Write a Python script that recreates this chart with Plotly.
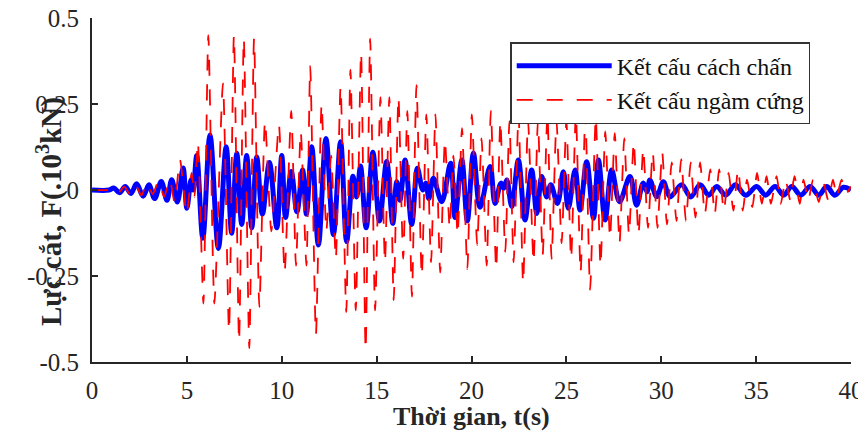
import plotly.graph_objects as go

# Peaks / troughs (time in s, force in 10^3 kN)
blue_t = [0, 0.9, 1.15, 1.45, 1.75, 2.05, 2.35, 2.7, 3.0, 3.3, 3.65, 3.95, 4.2, 4.5,
          4.8, 5.0, 5.22, 5.33, 5.52, 5.84, 6.22, 6.66, 7.07, 7.36, 7.63, 7.89, 8.15, 8.42,
          8.68, 8.98, 9.35, 9.74, 10.0, 10.2, 10.5, 10.8, 11.1, 11.3, 11.58, 11.93, 12.33,
          12.72, 13.1, 13.42, 13.75, 13.95, 14.15, 14.45, 14.8, 15.15, 15.53, 15.85, 16.06,
          16.23, 16.5, 16.85, 17.15, 17.43, 17.6, 17.75, 17.99, 18.43, 18.9, 19.13, 19.49,
          19.78, 20.1, 20.45, 20.98, 21.24, 21.55, 21.7, 21.86, 22.12, 22.47, 22.82, 23.17,
          23.44, 23.7, 23.96, 24.18, 24.53, 24.84, 25.1, 25.46, 25.72, 26.07, 26.43, 26.69,
          27.04, 27.39, 27.8, 28.35, 28.7, 29.05, 29.25, 29.4, 29.76, 30.11, 30.46, 31.08,
          31.55, 32.05, 32.5, 32.92, 33.4, 33.9, 34.45, 35.03, 35.5, 36.0, 36.45, 36.88,
          37.35, 37.85, 38.3, 38.72, 39.15, 39.6, 40.0]
blue_f = [0, 0, 0.006, -0.008, 0.01, -0.01, 0.018, -0.018, 0.015, -0.025, 0.025, -0.03, 0.03, -0.035,
          0.064, -0.053, 0.03, 0.0, 0.1, -0.14, 0.16, -0.17, 0.126, -0.126, 0.107, -0.1, 0.1, -0.11,
          0.096, -0.07, 0.08, -0.11, 0.1, -0.08, 0.054, -0.063, 0.058, -0.07, 0.126, -0.16, 0.15,
          -0.13, 0.14, -0.15, 0.04, -0.02, 0.07, -0.11, 0.11, -0.09, 0.083, -0.097, 0.024,
          -0.03, 0.087, -0.1, 0.063, 0.0, 0.02, -0.025, 0.034, -0.034, 0.078, -0.08, 0.087,
          -0.09, 0.107, -0.05, 0.068, -0.039, 0.02, 0.005, 0.029, -0.048, 0.087, -0.087, 0.058,
          -0.068, 0.039, -0.02, 0.015, -0.039, 0.053, -0.053, 0.058, -0.058, 0.082, -0.082, 0.087,
          -0.087, 0.058, -0.034, 0.039, -0.044, 0.02, -0.005, 0.029, -0.019, 0.024, -0.02, 0.015,
          -0.02, 0.015, -0.015, 0.01, -0.015, 0.015, -0.015, 0.01, -0.015, 0.01, -0.015, 0.01,
          -0.015, 0.01, -0.015, 0.01, -0.015, 0.008, 0.0]

red_t = [0, 0.8, 1.1, 1.4, 1.7, 2.0, 2.3, 2.6, 2.9, 3.2, 3.5, 3.8, 4.1, 4.35,
         4.64, 4.99, 5.25, 5.4, 5.58, 5.87, 6.13, 6.45, 6.9, 7.22, 7.48, 7.75, 8.0, 8.29,
         8.54, 8.82, 9.12, 9.45, 9.85, 10.15, 10.5, 10.75, 11.0, 11.3, 11.5, 11.8, 12.1,
         12.35, 12.6, 12.85, 13.1, 13.4, 13.62, 13.9, 14.18, 14.42, 14.66, 14.92, 15.2,
         15.44, 15.67, 15.9, 16.15, 16.4, 16.62, 16.86, 17.1, 17.38, 17.62, 17.87, 18.1,
         18.35, 18.6, 18.85, 19.05, 19.27, 19.5, 19.78, 20.02, 20.3, 20.53, 20.8, 21.02,
         21.3, 21.52, 21.78, 22.0, 22.22, 22.48, 22.72, 22.98, 23.27, 23.5, 23.75, 24.0,
         24.22, 24.48, 24.75, 25.0, 25.25, 25.5, 25.75, 26.0, 26.25, 26.55, 26.8, 27.05,
         27.3, 27.55, 27.8, 28.05, 28.3, 28.55, 28.8, 29.05, 29.3, 29.55, 29.8, 30.05,
         30.3, 30.55, 30.8, 31.05, 31.3, 31.55, 31.8, 32.05, 32.3, 32.58, 32.82, 33.05,
         33.3, 33.55, 33.8, 34.05, 34.3, 34.52, 34.8, 35.05, 35.3, 35.55, 35.78, 36.08,
         36.3, 36.55, 36.8, 37.02, 37.3, 37.5, 37.75, 38.0, 38.3, 38.55, 38.8, 39.05,
         39.25, 39.5, 39.75, 40.0]
red_f = [0, 0, 0.006, -0.008, 0.01, -0.012, 0.014, -0.016, 0.02, -0.012, 0.025, -0.02, 0.03, -0.035,
         0.087, -0.07, 0.05, -0.02, 0.14, -0.33, 0.45, -0.33, 0.31, -0.41, 0.45, -0.44, 0.44, -0.46,
         0.44, -0.34, 0.2, -0.12, 0.19, -0.24, 0.23, -0.22, 0.17, -0.22, 0.36, -0.42, 0.25,
         -0.12, 0.1, -0.2, 0.30, -0.355, 0.35, -0.35, 0.40, -0.465, 0.44, -0.35, 0.27,
         -0.21, 0.27, -0.32, 0.27, -0.2, 0.23, -0.31, 0.305, -0.25, 0.22, -0.21, 0.22,
         -0.24, 0.145, -0.11, 0.1, -0.13, 0.18, -0.23, 0.22, -0.16, 0.15, -0.22, 0.23,
         -0.23, 0.2, -0.18, 0.2, -0.21, 0.22, -0.27, 0.2, -0.21, 0.2, -0.19, 0.22,
         -0.2, 0.2, -0.155, 0.2, -0.2, 0.22, -0.24, 0.22, -0.29, 0.21, -0.22, 0.17,
         -0.14, 0.165, -0.155, 0.15, -0.13, 0.14, -0.13, 0.12, -0.11, 0.11, -0.11, 0.11,
         -0.1, 0.08, -0.09, 0.09, -0.09, 0.08, -0.08, 0.08, -0.07, 0.06, -0.07, 0.06,
         -0.06, 0.05, -0.06, 0.06, -0.06, 0.03, -0.05, 0.05, -0.04, 0.04, -0.04, 0.04,
         -0.04, 0.03, -0.03, 0.04, -0.04, 0.03, -0.03, 0.03, -0.035, 0.02, -0.03, 0.03,
         -0.02, 0.03, -0.01, 0.01]

x_ticks = [0, 5, 10, 15, 20, 25, 30, 35, 40]
y_ticks = [-0.5, -0.25, 0, 0.25, 0.5]
y_ticktext = ["-0.5", "-0.25", "0", "0.25", "0.5"]

font = "Liberation Serif"

fig = go.Figure()
fig.add_trace(go.Scatter(x=blue_t, y=blue_f, mode="lines", name="Kết cấu cách chấn",
                         line=dict(color="#0000ff", width=5, shape="spline", smoothing=1.0)))
fig.add_trace(go.Scatter(x=red_t, y=red_f, mode="lines", name="Kết cấu ngàm cứng",
                         line=dict(color="#ff0000", width=1.8, dash="16px,14px",
                                   shape="spline", smoothing=0.6)))

axis_common = dict(showline=True, linecolor="#262626", linewidth=2, mirror=False,
                   ticks="inside", ticklen=6, tickwidth=1.5, tickcolor="#262626",
                   showgrid=False, zeroline=False, automargin=False,
                   ticklabeloverflow="allow",
                   tickfont=dict(family=font, size=25, color="#262626"))

fig.update_xaxes(range=[0, 40], tickvals=x_ticks, ticklabelstandoff=5, **axis_common)
fig.update_yaxes(range=[-0.5, 0.5], tickvals=y_ticks, ticktext=y_ticktext,
                 ticklabelstandoff=6, **axis_common)

# axis titles
fig.add_annotation(text="<b>Thời gian, t(s)</b>", xref="paper", yref="paper",
                   x=0.5, y=-0.157, yanchor="middle", showarrow=False,
                   font=dict(family=font, size=26, color="#262626"))
fig.add_annotation(text="<b>Lực cắt, F(.10<sup>3</sup>kN)</b>", textangle=-90,
                   xref="paper", yref="paper", x=-0.083, y=0.4375, showarrow=False,
                   font=dict(family=font, size=29, color="#262626"))

# the page body adds an 8px offset, so the figure is 8px smaller and shifted
fig.update_layout(
    width=858, height=430,
    margin=dict(l=84, r=15, t=10, b=76, autoexpand=False),
    plot_bgcolor="white", paper_bgcolor="white",
    font=dict(family=font, color="#262626"),
    legend=dict(x=0.551, y=0.930, xanchor="left", yanchor="top",
                bgcolor="white", bordercolor="#333333", borderwidth=1.5,
                font=dict(family=font, size=24, color="#111111"),
                itemwidth=95, tracegroupgap=0),
)

fig.write_html("out.html")
